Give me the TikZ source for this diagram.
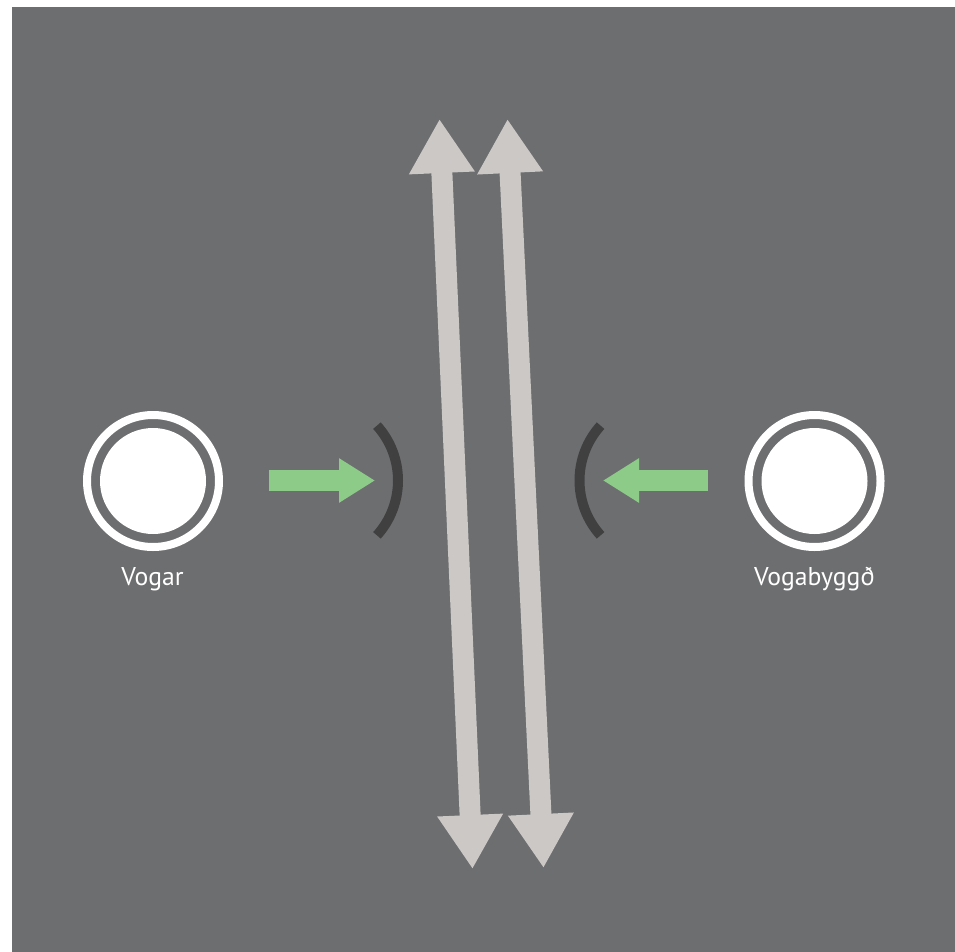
\documentclass[tikz,border=0pt]{standalone}
\usepackage{fontspec}
\setmainfont{PT Sans}
\usetikzlibrary{arrows.meta}
\definecolor{bgray}{HTML}{6D6E70}
\definecolor{darkarc}{HTML}{404041}
\definecolor{greenarrow}{HTML}{8DCB88}
\definecolor{lightarrow}{HTML}{CBC8C6}
\tikzset{
  discnode/.style={circle, fill=white, minimum size=106pt, inner sep=0pt, outer sep=0pt},
  ringnode/.style={circle, draw=white, line width=8pt, minimum size=132pt, inner sep=0pt, outer sep=0pt},
  placelabel/.style={text=white, font=\fontsize{25.7}{30}\selectfont, anchor=base, inner sep=0pt},
  greenline/.style={draw=greenarrow, line width=21pt, -{Triangle[width=42pt,length=36pt]}},
  bracketline/.style={draw=darkarc, line width=10pt},
  bigarrow/.style={draw=lightarrow, line width=21pt, {Triangle[width=62pt,length=54pt]}-{Triangle[width=62pt,length=54pt]}}
}
\begin{document}
\begin{tikzpicture}[x=1pt,y=-1pt]
\useasboundingbox (0,0) rectangle (955,952);
\fill[white] (0,0) rectangle (955,952);
\fill[bgray] (12,7) rectangle (955,952);
% places
\node[ringnode] (vogarring) at (153,481) {};
\node[discnode] (vogar) at (153,481) {};
\node[placelabel] (vogarlabel) at (152.5,585.5) {Vogar};
\node[ringnode] (vbring) at (814.5,481) {};
\node[discnode] (vb) at (814.5,481) {};
\node[placelabel] (vblabel) at (814.5,585.5) {Vogabyggð};
% green arrows
\coordinate (g1s) at (269,480.5);
\coordinate (g1e) at (375,480.5);
\coordinate (g2s) at (708,480.5);
\coordinate (g2e) at (603,480.5);
\draw[greenline] (g1s) -- (g1e);
\draw[greenline] (g2s) -- (g2e);
% brackets
\draw[bracketline] (316,480.5) ++(-42:82) arc[start angle=-42, end angle=42, radius=82];
\draw[bracketline] (661.5,480.5) ++(138:82) arc[start angle=138, end angle=222, radius=82];
% big double arrows
\coordinate (a1t) at (439.5,119);
\coordinate (a1b) at (472.5,869);
\coordinate (a2t) at (507.5,119);
\coordinate (a2b) at (543.5,868);
\draw[bigarrow] (a1t) -- (a1b);
\draw[bigarrow] (a2t) -- (a2b);
\end{tikzpicture}
\end{document}
